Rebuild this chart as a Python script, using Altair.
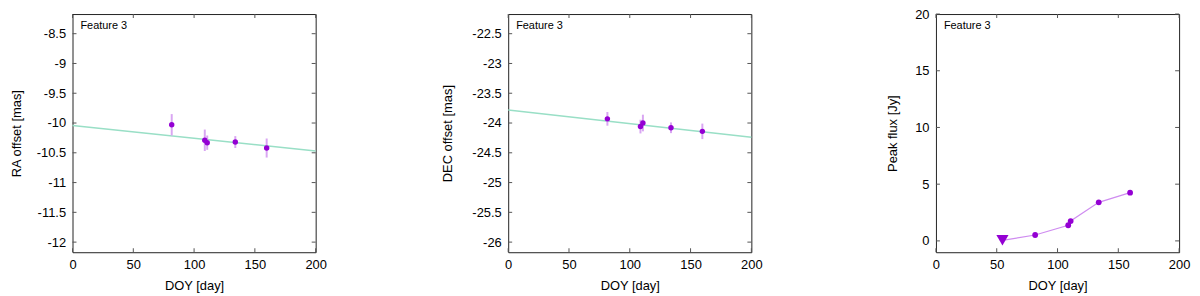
import altair as alt
import pandas as pd

# ---- data ----
doy = [81.6, 108.8, 110.8, 133.9, 159.7]
ra = [-10.03, -10.29, -10.33, -10.32, -10.42]
ra_err = [0.18, 0.18, 0.12, 0.10, 0.16]
dec = [-23.93, -24.06, -24.00, -24.08, -24.14]
dec_err = [0.115, 0.115, 0.14, 0.09, 0.13]
flux = [0.52, 1.38, 1.75, 3.40, 4.25]
ul_doy = [54.7]
ul_flux = [0.05]
fit_doy = [0, 200]
ra_fit = [-10.04, -10.47]
dec_fit = [-23.78, -24.24]

x_ticks = [0, 50, 100, 150, 200]
ra_ticks = [-12, -11.5, -11, -10.5, -10, -9.5, -9, -8.5]
dec_ticks = [-26, -25.5, -25, -24.5, -24, -23.5, -23, -22.5]
flux_ticks = [0, 5, 10, 15, 20]
x_domain = [0, 200]
ra_domain = [-12.17, -8.17]
dec_domain = [-26.17, -22.17]
flux_domain = [-1, 20]

W, H = 245, 240
FONT = "Liberation Sans"
PT = "#9400d3"
ERR = "#d9a6f2"
FIT = "#99dfc6"
FLUXLINE = "#cf8cf0"
TICK = "#555555"


def frame_layers(ydom, yticks, ytitle, title_x, left_ext, right_ext):
    xs = alt.Scale(domain=x_domain, nice=False, zero=False)
    ys = alt.Scale(domain=ydom, nice=False, zero=False)
    xt = pd.DataFrame({"v": x_ticks})
    yt = pd.DataFrame({"v": yticks})
    one = pd.DataFrame({"k": [0]})
    xaxis = alt.Axis(values=x_ticks, tickCount=20, title="DOY [day]", ticks=False,
                     domain=False, grid=False, labelPadding=6, titlePadding=9,
                     labelFlush=False, labelOverlap=False, labelExpr="'' + datum.value",
                     labelFontSize=13, titleFontSize=13, labelFont=FONT, titleFont=FONT,
                     titleFontWeight="normal", labelColor="#000", titleColor="#000")
    yaxis = alt.Axis(values=yticks, tickCount=20, title=ytitle, ticks=False, domain=False,
                     grid=False, labelPadding=7, labelFlush=False, labelOverlap=False,
                     labelExpr="'' + datum.value",
                     titleX=title_x, titleBaseline="middle",
                     labelFontSize=13, titleFontSize=13, labelFont=FONT, titleFont=FONT,
                     titleFontWeight="normal", labelColor="#000", titleColor="#000")
    base_axes = alt.Chart(xt).mark_rule(color=TICK).encode(
        x=alt.X("v:Q", scale=xs, axis=xaxis),
        y=alt.value(H), y2=alt.value(H - 4))
    top_ticks = alt.Chart(xt).mark_rule(color=TICK).encode(
        x=alt.X("v:Q", scale=xs), y=alt.value(0), y2=alt.value(4))
    left_ticks = alt.Chart(yt).mark_rule(color=TICK).encode(
        y=alt.Y("v:Q", scale=ys, axis=yaxis),
        x=alt.value(0), x2=alt.value(4))
    right_ticks = alt.Chart(yt).mark_rule(color=TICK).encode(
        y=alt.Y("v:Q", scale=ys), x=alt.value(W - 4), x2=alt.value(W))
    label = alt.Chart(one).mark_text(text="Feature 3", align="left", baseline="middle",
                                     font=FONT, fontSize=11, color="#000").encode(
        x=alt.value(8), y=alt.value(12))
    spacer = alt.Chart(one).mark_rule(opacity=0, color="#fff").encode(
        x=alt.value(-left_ext), x2=alt.value(W + right_ext), y=alt.value(H / 2))
    return [spacer, base_axes, left_ticks, top_ticks, right_ticks, label], xs, ys


def offset_panel(vals, errs, fit, ydom, yticks, ytitle, title_x, left_ext, right_ext):
    layers, xs, ys = frame_layers(ydom, yticks, ytitle, title_x, left_ext, right_ext)
    df = pd.DataFrame({"doy": doy, "val": vals, "err": errs})
    df["lo"] = df["val"] - df["err"]
    df["hi"] = df["val"] + df["err"]
    fdf = pd.DataFrame({"doy": fit_doy, "val": fit})
    fitline = alt.Chart(fdf).mark_line(color=FIT, strokeWidth=1.5).encode(
        x=alt.X("doy:Q", scale=xs), y=alt.Y("val:Q", scale=ys))
    bars = alt.Chart(df).mark_rule(color=ERR, strokeWidth=2).encode(
        x=alt.X("doy:Q", scale=xs), y=alt.Y("lo:Q", scale=ys), y2="hi:Q")
    pts = alt.Chart(df).mark_circle(color=PT, size=30, opacity=1).encode(
        x=alt.X("doy:Q", scale=xs), y=alt.Y("val:Q", scale=ys))
    return alt.layer(*layers, fitline, bars, pts).properties(width=W, height=H)


p1 = offset_panel(ra, ra_err, ra_fit, ra_domain, ra_ticks, "RA offset [mas]", -56.5, 64, 20)
p2 = offset_panel(dec, dec_err, dec_fit, dec_domain, dec_ticks, "DEC offset [mas]", -61, 172, 20)

layers3, xs3, ys3 = frame_layers(flux_domain, flux_ticks, "Peak flux [Jy]", -44, 164, 12)
line_df = pd.DataFrame({"doy": ul_doy + doy, "flux": ul_flux + flux})
pts_df = pd.DataFrame({"doy": doy, "flux": flux})
ul_df = pd.DataFrame({"doy": ul_doy, "flux": ul_flux})
fline = alt.Chart(line_df).mark_line(color=FLUXLINE, strokeWidth=1.2).encode(
    x=alt.X("doy:Q", scale=xs3, sort=None), y=alt.Y("flux:Q", scale=ys3))
fpts = alt.Chart(pts_df).mark_circle(color=PT, size=34, opacity=1).encode(
    x=alt.X("doy:Q", scale=xs3), y=alt.Y("flux:Q", scale=ys3))
ful = alt.Chart(ul_df).mark_point(shape="triangle-down", filled=True, size=150,
                                  color=PT, opacity=1).encode(
    x=alt.X("doy:Q", scale=xs3), y=alt.Y("flux:Q", scale=ys3))
p3 = alt.layer(*layers3, fline, fpts, ful).properties(width=W, height=H)

chart = alt.hconcat(p1, p2, p3, spacing=0).properties(
    padding={"left": 0, "top": -2, "right": 0, "bottom": 0}
).configure_view(stroke="#222222", strokeWidth=1)

chart.save("out.html", embed_options={"renderer": "svg", "actions": False})
